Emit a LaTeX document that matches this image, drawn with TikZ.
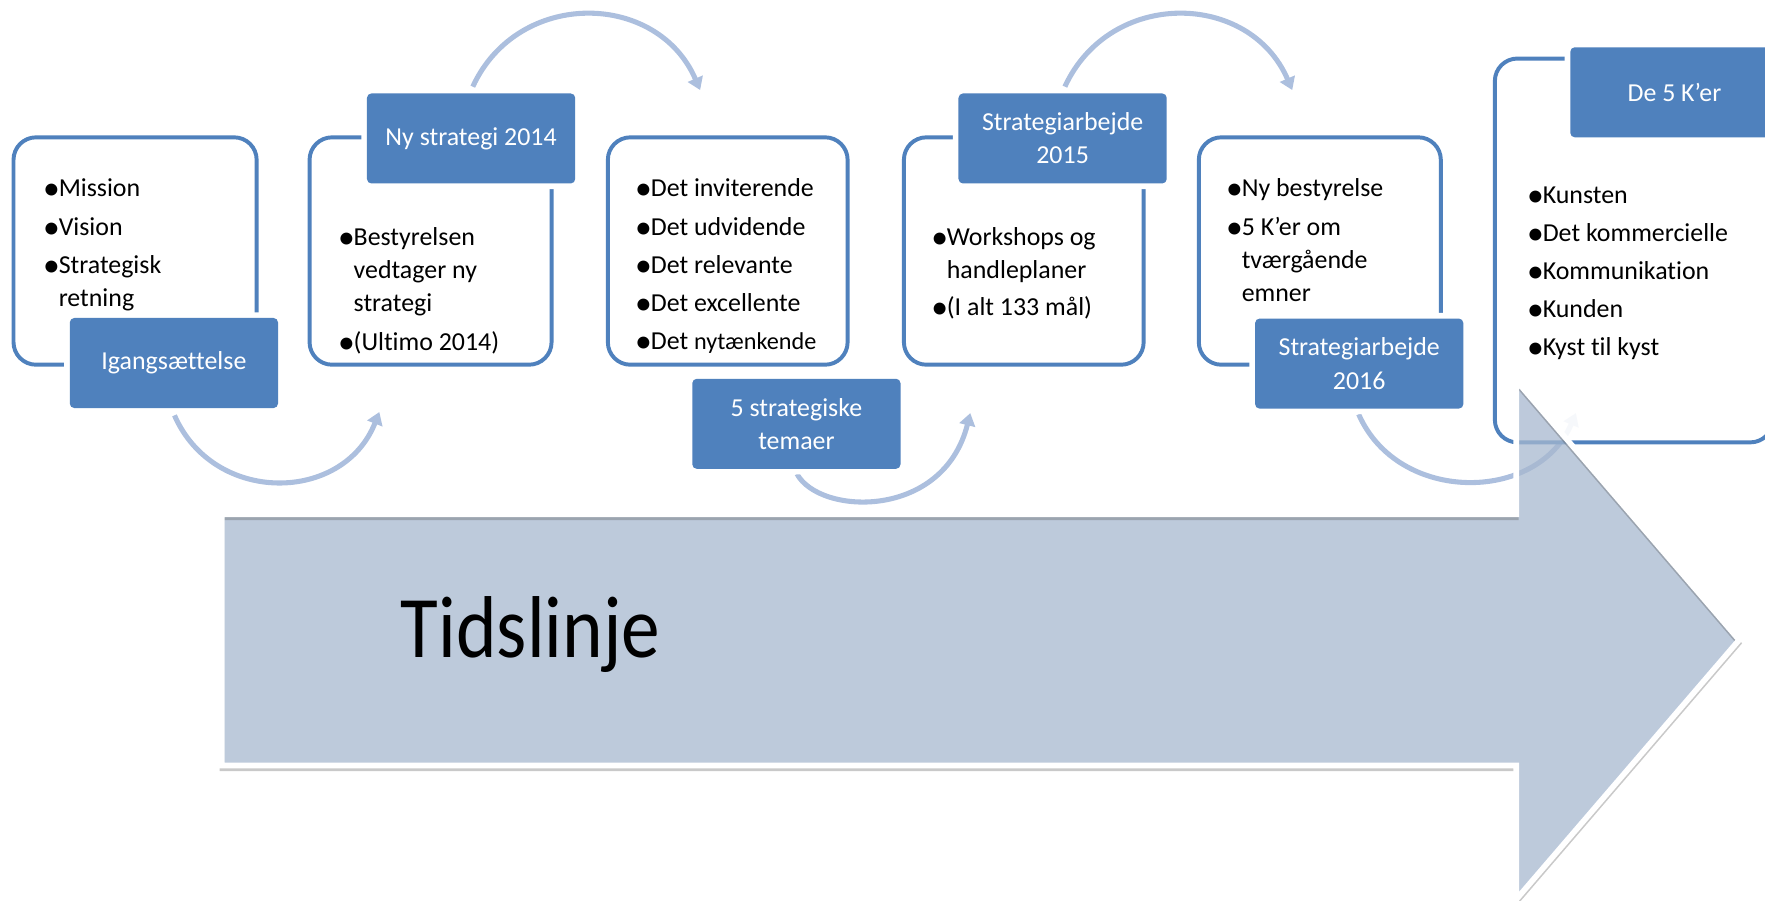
\documentclass[tikz,border=0pt]{standalone}
\usepackage{fontspec}
\setmainfont{Carlito}[Ligatures=NoCommon]
\usepackage{graphicx}
\usetikzlibrary{arrows.meta}
\definecolor{myblue}{RGB}{79,129,189}
\definecolor{arcblue}{RGB}{172,191,222}
\definecolor{arrowfill}{RGB}{167,184,207}
\newcommand{\bulx}{\llap{\raisebox{-2.6pt}{\scalebox{1.3}{•}}\kern-1pt}}
\begin{document}
\begin{tikzpicture}[x=1pt,y=-1pt,
  box/.style={draw=myblue, line width=3.5pt, rounded corners=20pt, fill=white, inner sep=0pt},
  lab/.style={rectangle, rounded corners=4pt, fill=myblue, text=white, minimum width=185pt,
    minimum height=80pt, inner sep=0pt, align=center, font=\fontsize{23}{29.5}\selectfont,
    preaction={draw=white, line width=10pt}},
  txt/.style={anchor=north west, inner sep=0pt, align=left, font=\fontsize{23}{29.6}\selectfont},
  arcarrow/.style={draw=arcblue, line width=4.5pt, -{Triangle[length=11pt,width=14pt]}}]
\useasboundingbox (0,0) rectangle (1568,800);
\clip (0,0) rectangle (1568,800);

% connector end points
\coordinate (a1s) at (155,369);
\coordinate (a1e) at (337,366);
\coordinate (a2s) at (420,77);
\coordinate (a2e) at (622,80);
\coordinate (a3s) at (708,421);
\coordinate (a3e) at (862,367);
\coordinate (a4s) at (946,77);
\coordinate (a4e) at (1148,80);
\coordinate (a5s) at (1207,368);
\coordinate (a5e) at (1400,367);

% curved connectors
\draw[arcarrow] (a1s) .. controls (190,449) and (305,447) .. (a1e);
\draw[arcarrow] (a2s) .. controls (460,-10) and (584,-8) .. (a2e);
\draw[arcarrow] (a3s) .. controls (728,458) and (838,462) .. (a3e);
\draw[arcarrow] (a4s) .. controls (986,-10) and (1110,-8) .. (a4e);
\draw[arcarrow] (a5s) .. controls (1242,448) and (1366,447) .. (a5e);

% outlined boxes
\node[box, minimum width=216pt, minimum height=202pt] (b1) at (120,223) {};
\node[box, minimum width=215pt, minimum height=202pt] (b2) at (382.5,223) {};
\node[box, minimum width=213pt, minimum height=202pt] (b3) at (646.5,223) {};
\node[box, minimum width=213pt, minimum height=202pt] (b4) at (909.5,223) {};
\node[box, minimum width=215pt, minimum height=202pt] (b5) at (1172.5,223) {};
\node[box, fill opacity=0.9, minimum width=247pt, minimum height=341pt] (b6) at (1451.5,222.5) {};

% labels
\node[lab] (l1) at (154.5,322.5) {Igangsættelse};
\node[lab] (l2) at (418.5,123) {Ny strategi 2014};
\node[lab] (l3) at (707.5,376.5) {5 strategiske\\temaer};
\node[lab] (l4) at (944,123) {Strategiarbejde\\2015};
\node[lab] (l5) at (1207.5,323) {Strategiarbejde\\2016};
\node[lab] (l6) at (1487.5,82) {De 5 K’er};

% box texts
\node[txt] (t1) at (52,154) {\strut\bulx Mission\\[4.4pt]\bulx Vision\\[4.4pt]\bulx Strategisk\\retning};
\node[txt] (t2) at (314,196.9) {\strut\bulx Bestyrelsen\\vedtager ny\\strategi\\[4.4pt]\bulx(Ultimo 2014)};
\node[txt] (t3) at (578,154) {\strut\bulx Det inviterende\\[4.4pt]\bulx Det udvidende\\[4.4pt]\bulx Det relevante\\[4.4pt]\bulx Det excellente\\[4.4pt]\bulx Det {\fontsize{21.5}{29.6}\selectfont nytænkende}};
\node[txt] (t4) at (841,196.9) {\strut\bulx Workshops og\\handleplaner\\[3pt]\bulx(I alt 133 mål)};
\node[txt] (t5) at (1103,154) {\strut\bulx Ny bestyrelse\\[4.4pt]\bulx 5 K’er om\\tværgående\\emner};
\node[txt] (t6) at (1370.4,159.9) {\strut\bulx Kunsten\\[4.2pt]\bulx Det kommercielle\\[4.2pt]\bulx Kommunikation\\[4.2pt]\bulx Kunden\\[4.2pt]\bulx Kyst til kyst};

% big timeline arrow
\fill[arrowfill, fill opacity=0.75] (197,457) -- (1347,457) -- (1347,338) -- (1545,568.5) -- (1347,799) -- (1347,680) -- (197,680) -- cycle;
\draw[black!70, opacity=0.3, line width=4pt, line join=miter, shift={(0,3)}] (197,457) -- (1347,457) -- (1347,338) -- (1545,568.5) -- (1347,799) -- (1347,680) -- (197,680) -- cycle;
\draw[white, line width=5pt, line join=miter] (197,457) -- (1347,457) -- (1347,338) -- (1545,568.5) -- (1347,799) -- (1347,680) -- (197,680) -- cycle;
\node[anchor=base west, inner sep=0pt, font=\fontsize{78}{90}\selectfont] (tl) at (356,584) {\scalebox{0.88}[1]{Tidslinje}};
\end{tikzpicture}
\end{document}
